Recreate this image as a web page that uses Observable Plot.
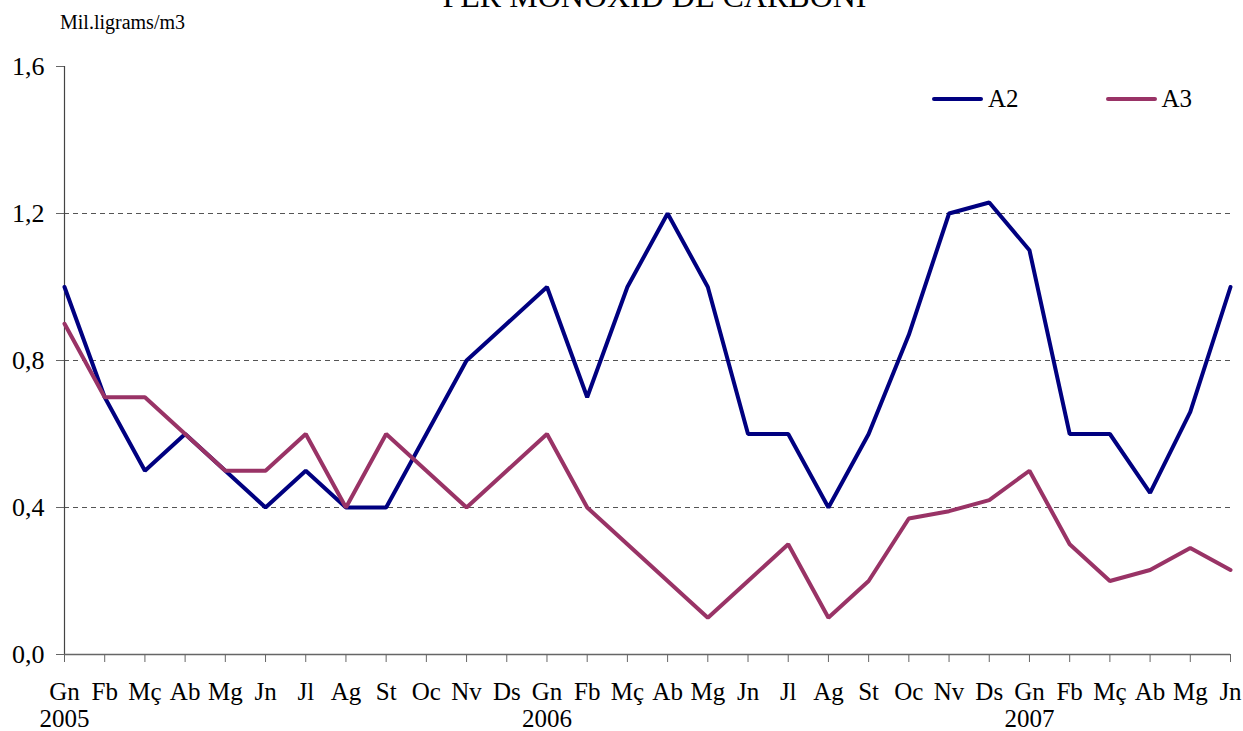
<!DOCTYPE html>
<html>
<head>
<meta charset="utf-8">
<script src="https://cdn.jsdelivr.net/npm/d3@7"></script>
<script src="https://cdn.jsdelivr.net/npm/@observablehq/plot@0.6"></script>
<style>
  html, body { margin: 0; padding: 0; background: #fff; }
  #wrap, #wrap div, #wrap span { font-family: "Liberation Serif", "Times New Roman", Times, serif; color: #000; }
  #wrap { position: relative; width: 1243px; height: 731px; overflow: hidden; }
  #title { position: absolute; left: 0; width: 1243px; top: -20px; text-align: center; font-size: 32px; line-height: 32px; padding-left: 66px; box-sizing: border-box; }
  #ylab { position: absolute; left: 60px; top: 11px; font-size: 20px; line-height: 22px; }
  #legend { position: absolute; left: 932px; top: 85px; font-size: 25px; line-height: 28px; display: flex; align-items: center; }
  .item { display: flex; align-items: center; }
  .sw { display: inline-block; width: 51px; height: 4px; border-radius: 2px; margin-right: 5px; }
  #chart { position: absolute; left: 0; top: 0; }
</style>
</head>
<body>
<div id="wrap">
  <div id="title">PER MONOXID DE CARBONI</div>
  <div id="ylab">Mil.ligrams/m3</div>
  <div id="legend"></div>
  <div id="chart"></div>
</div>
<script>
const months = ["Gn","Fb","Mç","Ab","Mg","Jn","Jl","Ag","St","Oc","Nv","Ds",
                "Gn","Fb","Mç","Ab","Mg","Jn","Jl","Ag","St","Oc","Nv","Ds",
                "Gn","Fb","Mç","Ab","Mg","Jn"];
const yearLabels = [{i: 0, year: "2005"}, {i: 12, year: "2006"}, {i: 24, year: "2007"}];
const seriesNames = ["A2", "A3"];
const seriesColors = ["#000080", "#993366"];
const a2 = [1.0, 0.7, 0.5, 0.6, 0.5, 0.4, 0.5, 0.4, 0.4, 0.6, 0.8, 0.9,
            1.0, 0.7, 1.0, 1.2, 1.0, 0.6, 0.6, 0.4, 0.6, 0.87, 1.2, 1.23,
            1.1, 0.6, 0.6, 0.44, 0.66, 1.0];
const a3 = [0.9, 0.7, 0.7, 0.6, 0.5, 0.5, 0.6, 0.4, 0.6, 0.5, 0.4, 0.5,
            0.6, 0.4, 0.3, 0.2, 0.1, 0.2, 0.3, 0.1, 0.2, 0.37, 0.39, 0.42,
            0.5, 0.3, 0.2, 0.23, 0.29, 0.23];
const yTicks = [0, 0.4, 0.8, 1.2, 1.6];
const gridTicks = [0.4, 0.8, 1.2];

const idx = months.map((_, i) => i);
const table = [
  ...a2.map((v, i) => ({i, v, s: "A2"})),
  ...a3.map((v, i) => ({i, v, s: "A3"}))
];

const fmt = d => d.toFixed(1).replace(".", ",");
const serif = '"Liberation Serif", "Times New Roman", Times, serif';

const chart = Plot.plot({
  width: 1243,
  height: 731,
  marginLeft: 64,
  marginRight: 13,
  marginTop: 66,
  marginBottom: 77,
  style: {fontFamily: serif, fontSize: "25px", color: "#000", background: "transparent"},
  x: {type: "linear", domain: [0, 29], ticks: idx, tickFormat: i => months[i], tickSize: 8, tickPadding: 20, label: null},
  y: {domain: [0, 1.6], ticks: yTicks, tickFormat: fmt, tickSize: 8, tickPadding: 12, label: null},
  color: {domain: seriesNames, range: seriesColors},
  marks: [
    Plot.ruleY(gridTicks, {stroke: "#555", strokeWidth: 1, strokeDasharray: "5,4"}),
    Plot.ruleX([0], {stroke: "#444", strokeWidth: 1.2}),
    Plot.ruleY([0], {stroke: "#666", strokeWidth: 1.5}),
    Plot.line(table, {x: "i", y: "v", z: "s", stroke: "s", strokeWidth: 4, strokeLinejoin: "miter", strokeLinecap: "round"}),
    Plot.text(yearLabels, {x: "i", y: () => 0, text: "year", dy: 64, fill: "#000", fontSize: 25, fontFamily: serif})
  ]
});

d3.select(chart).selectAll('[aria-label="x-axis"] line, [aria-label="y-axis"] line, [aria-label="x-axis tick"] path, [aria-label="y-axis tick"] path').attr("stroke", "#666");
d3.select(chart).selectAll('[aria-label="y-axis"] text, [aria-label="y-axis tick label"] text').style("font-size", "26px");
d3.select(chart).selectAll('[aria-label="y-axis"] path.domain, [aria-label="x-axis"] path.domain').remove();

document.getElementById("chart").appendChild(chart);

const legend = document.getElementById("legend");
seriesNames.forEach((name, k) => {
  const item = document.createElement("div");
  item.className = "item";
  item.style.marginRight = k === 0 ? "87px" : "0";
  const sw = document.createElement("span");
  sw.className = "sw";
  sw.style.background = seriesColors[k];
  const t = document.createElement("span");
  t.textContent = name;
  item.appendChild(sw);
  item.appendChild(t);
  legend.appendChild(item);
});
</script>
</body>
</html>
